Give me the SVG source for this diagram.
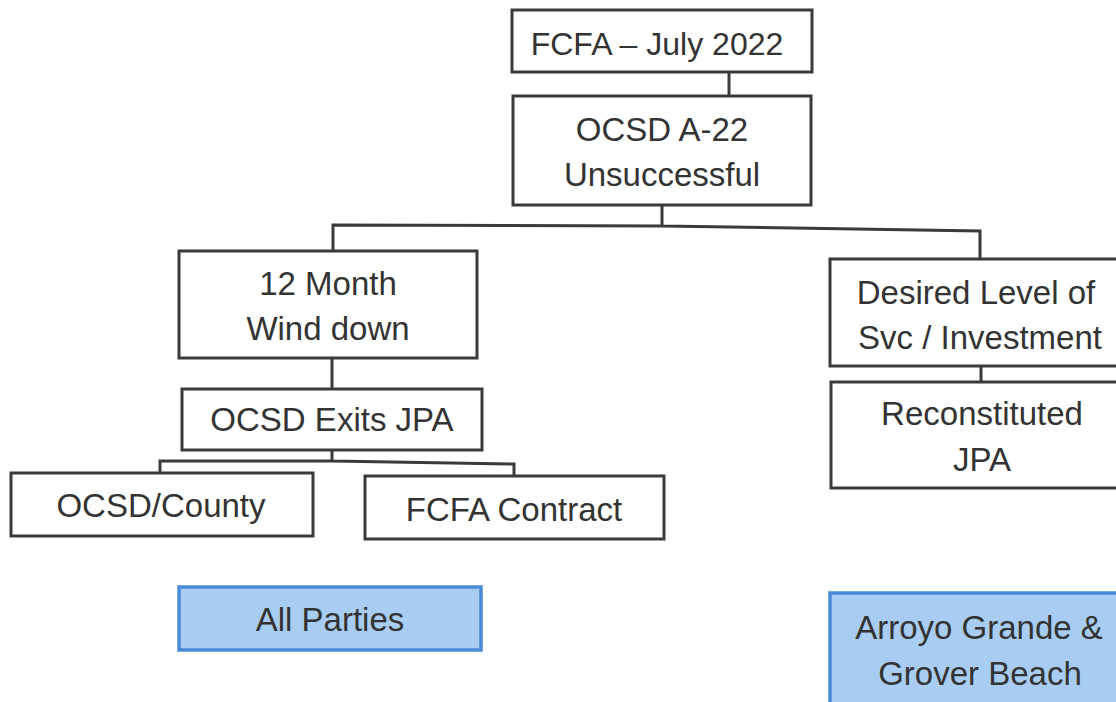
<svg xmlns="http://www.w3.org/2000/svg" width="1116" height="702" viewBox="0 0 1116 702">
<style>
.box{fill:#ffffff;stroke:#3a3a3a;stroke-width:3}
.blue{fill:#a9cdf2;stroke:#4a8ad6;stroke-width:3.5}
.t{font-family:"Liberation Sans",Arial,sans-serif;font-size:33px;fill:#333333;text-anchor:middle}
.c{fill:none;stroke:#3a3a3a;stroke-width:3;stroke-linejoin:miter}
</style>
<rect width="1116" height="702" fill="#ffffff"/>
<g id="connectors">
<path class="c" d="M729 72 V96"/>
<path class="c" d="M662 205 V226 M333 251 V225 L662 226 L980 231 V259"/>
<path class="c" d="M332 358 V389"/>
<path class="c" d="M332 450 V461 M160 473 V461 L332 461 L514 464 V476"/>
<path class="c" d="M981 366 V382"/>
</g>
<g id="n-fcfa">
<rect class="box" x="512" y="10" width="300" height="62"/>
<text class="t" x="657" y="55" style="font-size:32px">FCFA – July 2022</text>
</g>
<g id="n-ocsd-a22">
<rect class="box" x="513" y="96" width="298" height="109"/>
<text class="t" x="662" y="141">OCSD A-22</text>
<text class="t" x="662" y="186">Unsuccessful</text>
</g>
<g id="n-12month">
<rect class="box" x="179" y="251" width="298" height="107"/>
<text class="t" x="328" y="295">12 Month</text>
<text class="t" x="328" y="340">Wind down</text>
</g>
<g id="n-exits">
<rect class="box" x="182" y="389" width="300" height="61"/>
<text class="t" x="332" y="431">OCSD Exits JPA</text>
</g>
<g id="n-county">
<rect class="box" x="11" y="473" width="302" height="63"/>
<text class="t" x="161" y="517">OCSD/County</text>
</g>
<g id="n-contract">
<rect class="box" x="365" y="476" width="299" height="63"/>
<text class="t" x="514" y="521">FCFA Contract</text>
</g>
<g id="n-desired">
<rect class="box" x="830" y="259" width="300" height="107"/>
<text class="t" x="976" y="304">Desired Level of</text>
<text class="t" x="980" y="349">Svc / Investment</text>
</g>
<g id="n-reconst">
<rect class="box" x="831" y="382" width="300" height="106"/>
<text class="t" x="982" y="425">Reconstituted</text>
<text class="t" x="982" y="471">JPA</text>
</g>
<g id="n-allparties">
<rect class="blue" x="179" y="587" width="302" height="63"/>
<text class="t" x="330" y="631">All Parties</text>
</g>
<g id="n-arroyo">
<rect class="blue" x="830" y="593" width="300" height="120"/>
<text class="t" x="979" y="639">Arroyo Grande &amp;</text>
<text class="t" x="980" y="685">Grover Beach</text>
</g>
</svg>
